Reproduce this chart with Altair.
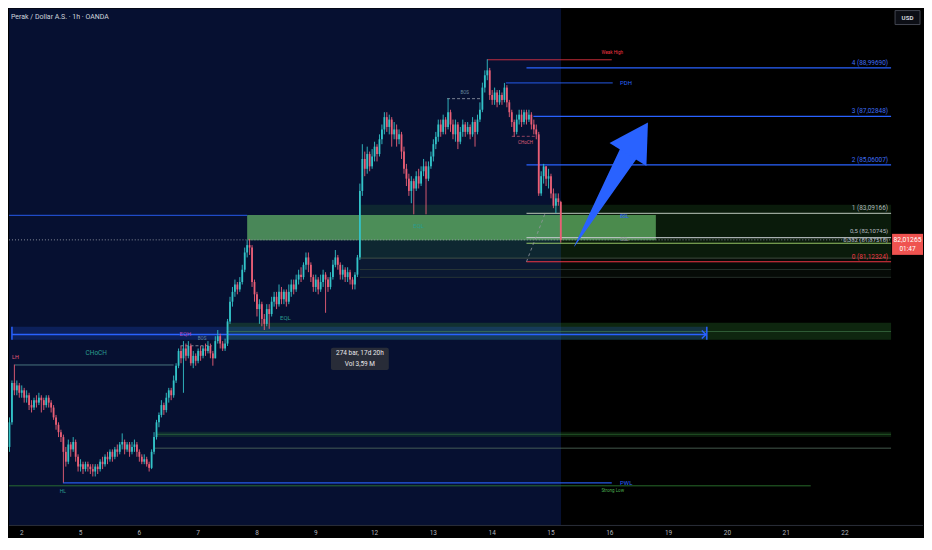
import altair as alt
import pandas as pd

# ---------------- data ----------------
TITLE = "Perak / Dollar A.S. · 1h · OANDA"
first_bar = -5
first_open = 73.6
closes = [
    74.6, 76.2, 75.9, 76.1, 75.8, 75.9, 75.6, 75.7, 75.3, 75.2,
    75.5, 75.4, 75.6, 75.5, 75.3, 75.6, 75.4, 75.2, 74.8, 74.5,
    74.2, 74.0, 73.4, 73.0, 73.7, 73.5, 73.8, 73.2, 72.8, 72.9,
    72.7, 72.9, 72.8, 72.7, 72.6, 72.8, 72.7, 73.0, 72.9, 73.2,
    73.1, 73.4, 73.2, 73.5, 73.4, 73.7, 73.8, 73.5, 73.7, 73.4,
    73.6, 73.7, 73.4, 73.2, 73.0, 73.1, 72.9, 72.75, 73.4, 74.0,
    74.6, 74.9, 75.3, 75.1, 75.6, 75.9, 75.7, 76.3, 76.9, 77.5,
    77.2, 77.6, 77.3, 77.7, 77.0, 77.3, 77.1, 77.5, 77.3, 77.6,
    77.5, 77.7, 77.4, 77.2, 77.9, 78.1, 77.8, 77.6, 77.8, 78.7,
    79.5, 79.9, 80.2, 80.0, 80.3, 80.8, 81.5, 81.8, 81.7, 80.3,
    79.8, 79.2, 79.4, 78.8, 78.6, 79.2, 79.0, 79.5, 79.7, 79.4,
    79.9, 79.6, 79.9, 79.5, 79.9, 80.2, 80.0, 80.4, 80.6, 80.5,
    81.0, 81.3, 81.0, 80.5, 80.1, 80.4, 80.0, 80.3, 80.6, 80.4,
    80.1, 80.5, 81.0, 81.3, 81.0, 80.6, 80.8, 80.5, 80.7, 80.4,
    80.2, 80.6, 81.3, 84.0, 85.3, 84.9, 85.5, 85.0, 85.4, 85.8,
    85.5, 86.1, 86.5, 87.0, 86.6, 86.9, 86.3, 86.5, 86.1, 86.3,
    85.6, 84.9, 84.5, 84.0, 84.4, 84.1, 84.6, 84.3, 84.8, 85.0,
    84.5, 85.0, 85.4, 85.9, 86.2, 86.7, 86.4, 86.9, 86.6, 87.2,
    86.7, 86.3, 86.7, 86.0, 86.4, 86.7, 86.4, 86.6, 86.3, 86.8,
    86.4, 86.9, 87.3, 88.2, 88.7, 88.9, 87.9, 87.7, 88.0, 87.6,
    87.9, 87.7, 88.2, 87.6, 87.2, 86.8, 86.4, 86.9, 87.1, 86.8,
    87.2, 86.9, 87.1, 86.7, 86.5, 86.3, 83.9, 84.6, 85.0, 84.5,
    84.6, 83.9, 83.4, 83.7, 83.55, 82.01265,
]
highs = [
    74.8, 76.3, 76.95, 76.3, 76.2, 76.1, 76.0, 75.9, 75.8, 75.5,
    75.6, 75.7, 75.8, 75.7, 75.6, 75.7, 75.7, 75.5, 75.3, 74.9,
    74.6, 74.3, 74.1, 73.6, 73.9, 73.8, 74.0, 73.9, 73.3, 73.1,
    73.0, 73.0, 73.0, 72.9, 72.9, 72.9, 72.9, 73.1, 73.2, 73.3,
    73.4, 73.5, 73.5, 73.6, 73.7, 73.8, 74.15, 73.9, 73.8, 73.8,
    73.8, 73.9, 73.8, 73.5, 73.3, 73.3, 73.2, 73.0, 73.5, 74.2,
    74.7, 75.0, 75.5, 75.4, 75.8, 76.0, 76.0, 76.5, 77.0, 77.6,
    77.7, 77.9, 77.8, 77.9, 77.8, 77.5, 77.4, 77.6, 77.7, 77.7,
    77.8, 77.9, 77.8, 77.5, 78.1, 78.35, 78.2, 77.9, 78.0, 78.8,
    79.7, 80.1, 80.4, 80.3, 80.5, 81.0, 81.7, 82.0, 82.05, 81.8,
    80.4, 79.9, 79.6, 79.5, 79.0, 79.4, 79.4, 79.7, 79.9, 79.9,
    80.2, 80.1, 80.0, 80.0, 80.2, 80.4, 80.4, 80.6, 80.8, 80.9,
    81.1, 81.5, 81.5, 81.1, 80.6, 80.6, 80.5, 80.6, 80.8, 80.7,
    80.5, 80.7, 81.2, 81.6, 81.4, 81.1, 81.0, 80.9, 80.9, 80.8,
    80.5, 80.7, 81.4, 84.3, 85.9, 85.6, 85.8, 85.6, 85.7, 86.0,
    85.9, 86.3, 86.7, 87.2, 87.2, 87.1, 87.0, 86.8, 86.7, 86.5,
    86.4, 85.8, 85.1, 84.7, 84.6, 84.5, 84.8, 84.9, 85.0, 85.3,
    85.2, 85.2, 85.6, 86.1, 86.4, 86.9, 86.9, 87.1, 87.0, 87.76,
    87.3, 86.9, 86.9, 86.8, 86.6, 86.9, 86.8, 86.8, 86.7, 87.0,
    86.9, 87.1, 87.6, 88.4, 88.9, 89.35, 89.0, 88.1, 88.2, 88.1,
    88.1, 88.0, 88.39, 88.3, 87.7, 87.3, 86.9, 87.1, 87.3, 87.3,
    87.3, 87.3, 87.3, 87.2, 86.9, 86.7, 86.4, 84.8, 85.1, 85.0,
    84.9, 84.7, 84.1, 83.9, 83.9, 83.6,
]
lows = [
    73.4, 74.5, 75.7, 75.7, 75.6, 75.6, 75.4, 75.4, 75.1, 75.0,
    75.1, 75.2, 75.3, 75.0, 75.1, 75.2, 75.2, 75.0, 74.7, 74.3,
    74.0, 73.8, 72.15, 72.8, 72.9, 73.2, 73.4, 73.0, 72.6, 72.6,
    72.5, 72.6, 72.6, 72.5, 72.4, 72.4, 72.5, 72.6, 72.7, 72.8,
    72.9, 73.0, 73.0, 73.1, 73.2, 73.3, 73.5, 73.3, 73.4, 73.2,
    73.3, 73.4, 73.2, 73.0, 72.9, 72.9, 72.8, 72.6, 72.7, 73.3,
    73.9, 74.4, 74.8, 74.9, 75.0, 75.4, 75.5, 75.6, 76.2, 76.8,
    77.0, 75.8, 77.1, 77.2, 76.9, 76.8, 76.9, 77.0, 77.1, 77.2,
    77.3, 77.4, 77.2, 76.9, 77.2, 77.8, 77.6, 77.5, 77.5, 77.7,
    78.6, 79.3, 79.7, 79.8, 79.9, 80.2, 80.7, 81.3, 81.4, 80.1,
    79.5, 78.9, 78.6, 78.5, 78.35, 78.5, 78.4, 78.9, 79.3, 79.2,
    79.3, 79.4, 79.4, 79.3, 79.4, 79.7, 79.8, 79.9, 80.2, 80.3,
    80.4, 80.8, 80.7, 80.3, 79.9, 79.9, 79.8, 79.9, 80.1, 79.05,
    79.9, 80.0, 80.4, 80.9, 80.8, 80.4, 80.4, 80.3, 80.3, 80.2,
    80.0, 80.0, 80.5, 81.2, 83.8, 84.6, 84.7, 84.8, 84.9, 85.2,
    85.2, 85.4, 85.9, 86.3, 86.4, 86.3, 85.8, 86.1, 85.8, 85.9,
    85.3, 84.7, 84.2, 83.8, 83.5, 83.05, 84.0, 84.1, 84.2, 84.6,
    83.05, 84.4, 84.9, 85.2, 85.7, 86.0, 86.2, 86.3, 86.3, 86.5,
    86.4, 86.1, 86.0, 85.7, 85.9, 86.2, 86.2, 86.3, 86.1, 86.2,
    85.8, 86.3, 86.8, 87.2, 88.0, 88.5, 87.7, 87.5, 87.5, 87.4,
    87.5, 87.5, 87.6, 87.4, 87.0, 86.6, 86.2, 86.3, 86.7, 86.6,
    86.7, 86.7, 86.8, 86.5, 86.3, 86.1, 83.8, 83.8, 84.3, 84.2,
    84.1, 83.7, 83.3, 83.1, 83.4, 81.9,
]

day_labels = ["2", "5", "6", "7", "8", "9", "12", "13", "14", "15", "16", "19", "20", "21", "22"]
bars_per_day = 24
price_ticks = [71, 72, 73, 74, 75, 76, 77, 78, 79, 80, 81, 83, 84, 85, 86, 87, 88, 89, 90]
last_price = 82.01265
countdown = "01:47"

# Fibonacci extension levels
fib_text = ["4 (88,99690)", "3 (87,02848)", "2 (85,06007)", "1 (83,09166)",
            "0,5 (82,10745)", "0,382 (81,87518)", "0 (81,12324)"]
fib_values = [88.99690, 87.02848, 85.06007, 83.09166, 82.10745, 81.87518, 81.12324]
fib_start = [206, 208.8, 206, 206, 206, 206, 206]
fib_line_colors = ["#2962ff", "#2962ff", "#2962ff", "#a9b5a9", "#c6cad0", "#a5d66e", "#f23645"]
fib_text_colors = ["#3f6ef2", "#3f6ef2", "#3f6ef2", "#aeb2ba", "#b8bcc4", "#b8bcc4", "#f23645"]
fib_link_x = [206, 213.6]
fib_link_y = [81.12324, 83.09166]

# ---------------- layout ----------------
W, H = 884, 518
XMIN, XMAX = -5.2, 354.8
YMIN, YMAX = 70.41, 91.41
SESSION_END = 220.1
NAVY = "#061031"
UP, DOWN = "#33c3c8", "#ea5f76"
FONT = "Roboto"
AXIS_TEXT = "#b2b5be"

xscale = alt.Scale(domain=[XMIN, XMAX], nice=False, zero=False)
yscale = alt.Scale(domain=[YMIN, YMAX], nice=False, zero=False)


def X(f):
    return alt.X(f"{f}:Q", scale=xscale, axis=None)


def Y(f):
    return alt.Y(f"{f}:Q", scale=yscale, axis=None)


day_ticks = [bars_per_day * i for i in range(len(day_labels))]

yaxis = alt.Axis(orient="right", values=price_ticks,
                 labelExpr="replace(format(datum.value, '.5f'), '.', ',')",
                 title=None, grid=False, ticks=False, domainColor="#363a45",
                 labelColor=AXIS_TEXT, labelFontSize=6.5, labelFont=FONT,
                 labelPadding=4, labelOverlap=False, labelFlush=False)

# ---------------- candles ----------------
opens = [first_open] + closes[:-1]
bars = list(range(first_bar, first_bar + len(closes)))
candles = pd.DataFrame({"b": bars, "o": opens, "h": highs, "l": lows, "c": closes})
candles["col"] = [UP if c >= o else DOWN for o, c in zip(opens, closes)]

# ---------------- zones ----------------
zone_x1 = [138, 138, 92, 83.6, -4, 54.8]
zone_x2 = [XMAX, XMAX, 258.8, XMAX, 279.6, XMAX]
zone_y1 = [81.28, 80.49, 82.0, 77.95, 77.95, 74.0]
zone_y2 = [83.44, 81.28, 83.02, 78.65, 78.48, 74.22]
zone_col = ["#2e7d32", "#2e5d3a", "#66bb6a", "#2e7d32", "#2962ff", "#2e7d32"]
zone_op = [0.22, 0.12, 0.7, 0.3, 0.2, 0.22]
zones = pd.DataFrame({"x1": zone_x1, "x2": zone_x2, "y1": zone_y1, "y2": zone_y2,
                      "c": zone_col, "op": zone_op})

# ---------------- lines ----------------
line_x1 = [-5.2, 190, 197.6, -2.8, 16.8, -5.2, 54, 54.8, -4, 83.6, 138, 138, 138]
line_x2 = [92, 240.8, 241.2, 62, 240.8, 322, XMAX, XMAX, 279.6, XMAX, XMAX, XMAX, XMAX]
line_y = [83.01, 89.33, 88.39, 76.93, 72.14, 72.02, 73.55, 74.11, 78.17, 78.29, 81.27, 80.81, 80.49]
line_col = ["#2962ff", "#f23645", "#2962ff", "#4f7f86", "#2962ff", "#2e7d32", "#56705f",
            "#43a047", "#2962ff", "#4c8a58", "#4a5a4a", "#33423a", "#33423a"]
line_w = [1, 1, 1, 1, 1.2, 1, 1, 1.2, 1.5, 1, 1, 1, 1]
line_op = [0.9, 0.8, 0.9, 0.9, 0.9, 0.85, 0.8, 0.35, 1, 0.55, 0.8, 0.7, 0.7]
lines = pd.DataFrame({"x1": line_x1 + fib_start, "x2": line_x2 + [XMAX] * len(fib_values),
                      "y": line_y + fib_values, "c": line_col + fib_line_colors,
                      "w": line_w + [1.2] * len(fib_values),
                      "op": line_op + [1, 1, 1, 0.9, 0.85, 0.9, 1]})

dash_x1 = [173.6, 200, 64.8]
dash_x2 = [187.6, 209.6, 77.6]
dash_y = [87.75, 86.22, 77.71]
dash_col = ["#c0c4cc", "#e0607a", "#c0c4cc"]
dashes = pd.DataFrame({"x1": dash_x1, "x2": dash_x2, "y": dash_y, "c": dash_col})

vert_x = [-4, 279.6]
vert_y1 = [77.95, 77.95]
vert_y2 = [78.48, 78.48]
verts = pd.DataFrame({"x": vert_x, "y1": vert_y1, "y2": vert_y2})

# ---------------- labels ----------------
tc_x = [162, 107.6, 66.8, 73.6, 180.8, 30.4, 205.6, 16.8, 241, 241.2, 246, 246]
tc_y = [82.58, 78.85, 78.18, 77.99, 88.0, 77.4, 85.96, 71.82, 89.62, 71.82, 83.0, 82.05]
tc_t = ["EQL", "EQL", "EQH", "BOS", "BOS", "CHoCH", "CHoCH", "HL", "Weak High", "Strong Low", "BSL", "SSL"]
tc_c = ["#2a9d8f", "#2a9d8f", "#ab47bc", "#6a8ca0", "#6a8ca0", "#2a9d8f", "#e0607a", "#2a9d8f",
        "#f23645", "#4caf50", "#2962ff", "#9598a1"]
tc_s = [6, 6, 6, 4.5, 4.5, 6.5, 4.5, 5, 4.5, 4.5, 5, 5]
texts_c = pd.DataFrame({"x": tc_x, "y": tc_y, "t": tc_t, "c": tc_c, "s": tc_s})

tl_x = [-4, 244.2, 244.2]
tl_y = [77.24, 88.39, 72.14]
tl_t = ["LH", "PDH", "PWL"]
tl_c = ["#e05a7a", "#2962ff", "#2962ff"]
tl_s = [5.5, 6, 6]
texts_l = pd.DataFrame({"x": tl_x, "y": tl_y, "t": tl_t, "c": tl_c, "s": tl_s})

fib_labels = pd.DataFrame({"x": [353.6] * len(fib_values), "y": fib_values, "t": fib_text, "c": fib_text_colors})
fib_main = fib_labels[~fib_labels["t"].str.startswith("0,")]
fib_half = fib_labels[fib_labels["t"].str.startswith("0,5")]
fib_382 = fib_labels[fib_labels["t"].str.startswith("0,382")]

# measure tool tooltip
tip_box = pd.DataFrame({"x1": [126.2], "x2": [149.8], "y1": [76.73], "y2": [77.63]})
tip_lines = pd.DataFrame({"x": [138, 138], "y": [77.40, 76.95], "t": ["274 bar, 17d 20h", "Vol 3,59 M"]})

# big arrow
arrow_shaft = pd.DataFrame({"b": [225.6, 250.0], "p": [81.755, 85.92], "w": [0.5, 21.5]})
arrow_head = pd.DataFrame({"b": [251.5], "p": [86.13]})

# ---------------- layers ----------------
navy = alt.Chart(pd.DataFrame({"x1": [XMIN], "x2": [SESSION_END], "y1": [YMIN], "y2": [YMAX]})).mark_rect(
    color=NAVY).encode(
    x=alt.X("x1:Q", scale=xscale, axis=None), x2="x2:Q",
    y=alt.Y("y1:Q", scale=yscale, axis=yaxis), y2="y2:Q")

# time axis: separator line and day labels
time_sep = alt.Chart(pd.DataFrame({"k": [0]})).mark_rule(color="#2a2e39", strokeWidth=1).encode(
    x=alt.value(0), x2=alt.value(W + 32), y=alt.value(H))
days = alt.Chart(pd.DataFrame({"b": day_ticks, "t": day_labels})).mark_text(
    font=FONT, fontSize=6.5, color=AXIS_TEXT, align="center", baseline="middle").encode(
    x=X("b"), y=alt.value(H + 8), text="t:N")

zone_layer = alt.Chart(zones).mark_rect().encode(
    x=X("x1"), x2="x2", y=Y("y1"), y2="y2",
    color=alt.Color("c:N", scale=None), opacity=alt.Opacity("op:Q", scale=None))

line_layer = alt.Chart(lines).mark_rule().encode(
    x=X("x1"), x2="x2", y=Y("y"),
    color=alt.Color("c:N", scale=None), strokeWidth=alt.StrokeWidth("w:Q", scale=None),
    opacity=alt.Opacity("op:Q", scale=None))

dash_layer = alt.Chart(dashes).mark_rule(strokeDash=[3, 2], strokeWidth=0.8, opacity=0.8).encode(
    x=X("x1"), x2="x2", y=Y("y"), color=alt.Color("c:N", scale=None))

vert_layer = alt.Chart(verts).mark_rule(color="#2962ff", strokeWidth=1.5).encode(
    x=X("x"), y=Y("y1"), y2="y2")

chevron = alt.Chart(pd.DataFrame({"x": [vert_x[1]], "y": [line_y[8]]})).mark_point(
    shape="M-1,-1L0,0L-1,1", filled=False, size=64, strokeWidth=1.5, color="#2962ff", opacity=1,
    xOffset=-1).encode(x=X("x"), y=Y("y"))

fib_link = alt.Chart(pd.DataFrame({"x": fib_link_x, "y": fib_link_y})).mark_line(
    strokeDash=[3, 3], color="#9598a1", strokeWidth=1, opacity=0.8).encode(x=X("x"), y=Y("y"))

price_line = alt.Chart(pd.DataFrame({"x1": [XMIN], "x2": [XMAX], "y": [last_price]})).mark_rule(
    strokeDash=[1, 2], color="#8a8f9c", strokeWidth=1).encode(x=X("x1"), x2="x2", y=Y("y"))

wicks = alt.Chart(candles).mark_rule(strokeWidth=0.9).encode(
    x=X("b"), y=Y("l"), y2="h", color=alt.Color("col:N", scale=None))
bodies = alt.Chart(candles).mark_rule(strokeWidth=1.8, strokeCap="butt").encode(
    x=X("b"), y=Y("o"), y2="c", color=alt.Color("col:N", scale=None))

txt_c = alt.Chart(texts_c).mark_text(font=FONT, align="center", baseline="middle").encode(
    x=X("x"), y=Y("y"), text="t:N", color=alt.Color("c:N", scale=None), size=alt.Size("s:Q", scale=None))
txt_l = alt.Chart(texts_l).mark_text(font=FONT, align="left", baseline="middle").encode(
    x=X("x"), y=Y("y"), text="t:N", color=alt.Color("c:N", scale=None), size=alt.Size("s:Q", scale=None))


def fib_text_layer(df, dy, size):
    return alt.Chart(df).mark_text(font=FONT, align="right", baseline="alphabetic", dy=dy,
                                   fontSize=size).encode(
        x=X("x"), y=Y("y"), text="t:N", color=alt.Color("c:N", scale=None))


txt_fib = fib_text_layer(fib_main, -3, 6.5)
txt_half = fib_text_layer(fib_half, -5, 6)
txt_382 = fib_text_layer(fib_382, -1.5, 6)

shaft = alt.Chart(arrow_shaft).mark_trail(color="#2962ff", opacity=1).encode(
    x=X("b"), y=Y("p"), size=alt.Size("w:Q", scale=None))
head = alt.Chart(arrow_head).mark_point(shape="triangle-up", filled=True, size=1900, angle=32,
                                        color="#2962ff", opacity=1).encode(x=X("b"), y=Y("p"))

tip_rect = alt.Chart(tip_box).mark_rect(color="#2a2e39", opacity=0.95, cornerRadius=2).encode(
    x=X("x1"), x2="x2", y=Y("y1"), y2="y2")
tip_text = alt.Chart(tip_lines).mark_text(font=FONT, fontSize=6.5, color="#e8e9ec", align="center",
                                          baseline="middle").encode(x=X("x"), y=Y("y"), text="t:N")

title = alt.Chart(pd.DataFrame({"t": [TITLE]})).mark_text(
    font=FONT, fontSize=7, color="#d1d4dc", align="left", baseline="middle").encode(
    x=alt.value(2), y=alt.value(8), text="t:N")

tag_df = pd.DataFrame({"p": [last_price], "t1": ["82,01265"], "t2": [countdown]})
tag = alt.Chart(tag_df).mark_point(shape="M-1,-0.68L1,-0.68L1,0.68L-1,0.68Z", filled=True, size=961,
                                   color="#ef5350", opacity=1, yOffset=4.5).encode(
    x=alt.value(W + 16.5), y=Y("p"))
tag_t1 = alt.Chart(tag_df).mark_text(font=FONT, fontSize=6.8, color="white", align="center",
                                     baseline="middle").encode(x=alt.value(W + 16.5), y=Y("p"), text="t1:N")
tag_t2 = alt.Chart(tag_df).mark_text(font=FONT, fontSize=6.5, color="white", align="center",
                                     baseline="middle", dy=9).encode(x=alt.value(W + 16.5), y=Y("p"), text="t2:N")

usd_df = pd.DataFrame({"t": ["USD"]})
usd_box = alt.Chart(usd_df).mark_point(shape="M-1,-0.56L1,-0.56L1,0.56L-1,0.56Z", filled=True, size=625,
                                       color="#0c0e15", stroke="#434651", strokeWidth=1, opacity=1).encode(
    x=alt.value(W + 16.5), y=alt.value(9))
usd_txt = alt.Chart(usd_df).mark_text(font=FONT, fontSize=6.2, fontWeight="bold", color="#d1d4dc",
                                      align="center", baseline="middle").encode(
    x=alt.value(W + 16.5), y=alt.value(9), text="t:N")

chart = alt.layer(
    navy, zone_layer, line_layer, dash_layer, vert_layer, chevron, fib_link, price_line,
    wicks, bodies, txt_c, txt_l, txt_fib, txt_half, txt_382, shaft, head, tip_rect, tip_text,
    title, tag, tag_t1, tag_t2, usd_box, usd_txt, time_sep, days,
).properties(width=W, height=H, background="#000000", padding=0).configure_view(stroke=None)

chart.save("out.html", embed_options={"renderer": "svg", "actions": False})
